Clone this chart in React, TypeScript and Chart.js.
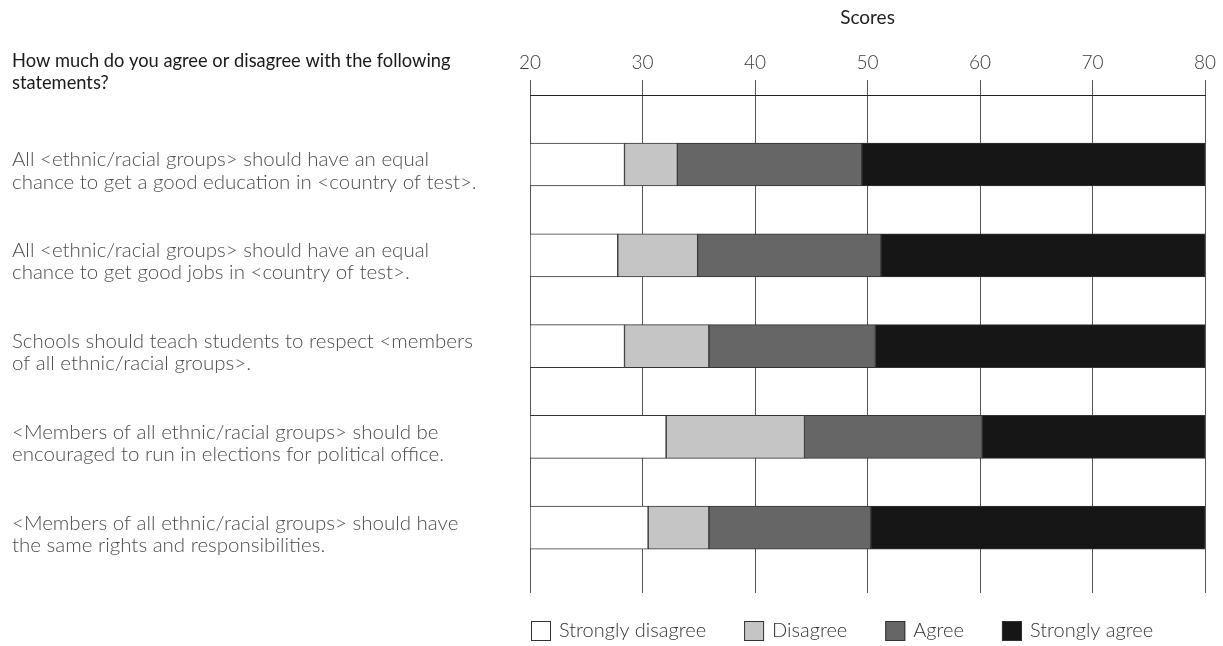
import React, { useEffect, useRef } from "react";
import { Chart, registerables } from "chart.js";

Chart.register(...registerables);

const question = ["How much do you agree or disagree with the following", "statements?"];

const statements: string[][] = [
  ["All <ethnic/racial groups> should have an equal", "chance to get a good education in <country of test>."],
  ["All <ethnic/racial groups> should have an equal", "chance to get good jobs in <country of test>."],
  ["Schools should teach students to respect <members", "of all ethnic/racial groups>."],
  ["<Members of all ethnic/racial groups> should be", "encouraged to run in elections for political office."],
  ["<Members of all ethnic/racial groups> should have", "the same rights and responsibilities."],
];

const scaleMin = 20;
const scaleMax = 80;
const xTicks = [20, 30, 40, 50, 60, 70, 80];

// Score thresholds where each response band ends
const stronglyDisagreeEnd = [28.4, 27.8, 28.4, 32.1, 30.5];
const disagreeEnd = [33.1, 34.9, 35.9, 44.4, 35.9];
const agreeEnd = [49.5, 51.2, 50.7, 60.2, 50.3];

const seriesNames = ["Strongly disagree", "Disagree", "Agree", "Strongly agree"];
const seriesColors = ["#ffffff", "#c4c5c4", "#666666", "#161616"];

const FONT = "Lato";

export default function App() {
  const ref = useRef<HTMLCanvasElement>(null);

  useEffect(() => {
    if (!ref.current) return;
    const idx = statements.map((_, i) => i + 1);
    const bands = [
      idx.map((y, i) => ({ y, x: [scaleMin, stronglyDisagreeEnd[i]] })),
      idx.map((y, i) => ({ y, x: [stronglyDisagreeEnd[i], disagreeEnd[i]] })),
      idx.map((y, i) => ({ y, x: [disagreeEnd[i], agreeEnd[i]] })),
      idx.map((y, i) => ({ y, x: [agreeEnd[i], scaleMax] })),
    ];

    const extras = {
      id: "extras",
      afterDraw(chart: any) {
        const ctx = chart.ctx;
        ctx.save();
        ctx.textBaseline = "middle";
        ctx.textAlign = "left";
        ctx.fillStyle = "#1a1a1a";
        ctx.font = `400 18.3px ${FONT}`;
        question.forEach((l, i) => ctx.fillText(l, 12, 61 + i * 22.5));

        // legend
        const ca = chart.chartArea;
        let x = ca.left + 1;
        const cy = 631;
        ctx.font = `300 20px ${FONT}`;
        seriesNames.forEach((n, i) => {
          ctx.fillStyle = seriesColors[i];
          ctx.fillRect(x, cy - 10, 20, 20);
          ctx.strokeStyle = "#333";
          ctx.lineWidth = 1;
          ctx.strokeRect(x + 0.5, cy - 9.5, 19, 19);
          ctx.fillStyle = "#333";
          ctx.fillText(n, x + 28, cy);
          x += 28 + ctx.measureText(n).width + 38;
        });
        ctx.restore();
      },
    };

    const chart = new Chart(ref.current, {
      type: "bar",
      data: {
        datasets: seriesNames.map((n, i) => ({
          label: n,
          data: bands[i] as any,
          backgroundColor: seriesColors[i],
          borderColor: "#333",
          borderWidth: 1,
          borderSkipped: false,
          barThickness: 43,
          grouped: false,
        })),
      },
      options: {
        indexAxis: "y",
        animation: false,
        responsive: true,
        maintainAspectRatio: false,
        layout: { padding: { left: 12, right: 18, top: 0, bottom: 53 } },
        plugins: { legend: { display: false }, tooltip: { enabled: false } },
        scales: {
          x: {
            type: "linear",
            position: "top",
            min: scaleMin,
            max: scaleMax,
            afterBuildTicks: (s: any) => {
              s.ticks = xTicks.map((v) => ({ value: v }));
            },
            afterFit: (s: any) => {
              s.height = 95;
            },
            grid: { color: "#555", lineWidth: 1, tickLength: 15, drawTicks: true },
            border: { display: true, color: "#222", width: 1 },
            ticks: {
              padding: 6,
              color: "#3a3a3a",
              font: { family: FONT, size: 19, weight: 300 as any },
            },
            title: {
              display: true,
              text: "Scores",
              color: "#222",
              font: { family: FONT, size: 19, weight: 400 as any },
              padding: { top: 6, bottom: 0 },
            },
          },
          y: {
            type: "linear",
            offset: false,
            reverse: true,
            min: 0.234,
            max: 5.72,
            afterBuildTicks: (s: any) => {
              s.ticks = statements.map((_, i) => ({ value: i + 1.07 }));
            },
            afterFit: (s: any) => {
              s.width = 518;
            },
            grid: { display: false },
            border: { display: false },
            ticks: {
              crossAlign: "far",
              padding: 0,
              color: "#4d4d4d",
              font: { family: FONT, size: 20.5, weight: 300 as any, lineHeight: 1.08 },
              callback: (v: any) => statements[Math.round(Number(v)) - 1] || "",
            },
          },
        },
      },
      plugins: [extras],
    });
    return () => chart.destroy();
  }, []);

  return (
    <div style={{ position: "absolute", left: 0, top: 0, width: 1223, height: 646 }}>
      <canvas ref={ref} />
    </div>
  );
}
